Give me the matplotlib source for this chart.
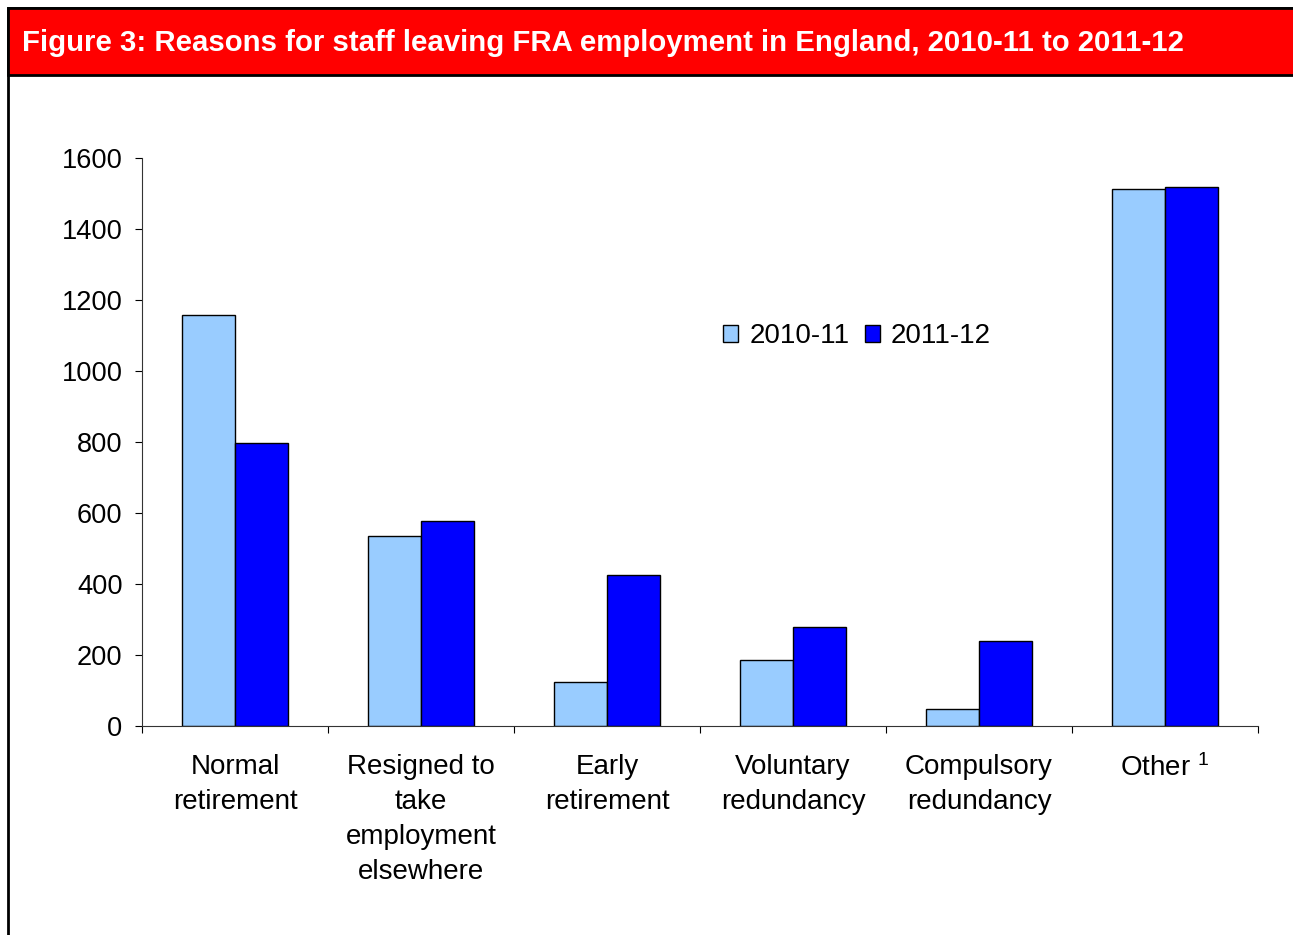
import numpy as np
import matplotlib
matplotlib.use("Agg")
import matplotlib.pyplot as plt
from matplotlib.patches import Rectangle

plt.rcParams['font.family'] = ['Liberation Sans', 'DejaVu Sans']
plt.rcParams['mathtext.fontset'] = 'custom'
plt.rcParams['mathtext.rm'] = 'Liberation Sans'
plt.rcParams['mathtext.default'] = 'regular'

categories = ["Normal\nretirement", "Resigned to\ntake\nemployment\nelsewhere",
              "Early\nretirement", "Voluntary\nredundancy", "Compulsory\nredundancy",
              "Other $^{1}$"]
values_2010 = [1158, 535, 124, 186, 48, 1513]
values_2011 = [797, 577, 425, 279, 239, 1518]
series_names = ["2010-11", "2011-12"]

fig = plt.figure(figsize=(12.93, 9.35), dpi=100)

# frame + red title band
W, H = 1293, 935
fig.patches.append(Rectangle((8 / W, -0.1), 1.2, 1.1 - 8 / H, transform=fig.transFigure,
                             facecolor="white", edgecolor="black", linewidth=2, zorder=-10))
fig.patches.append(Rectangle((8 / W, 1 - 75 / H), 1.2, 67 / H, transform=fig.transFigure,
                             facecolor="#ff0000", edgecolor="black", linewidth=2, zorder=-9))
fig.text(22 / W, 1 - 43 / H, "Figure 3: Reasons for staff leaving FRA employment in England, 2010-11 to 2011-12",
         color="white", fontsize=21.2, fontweight="bold", va="center", ha="left")

ax = fig.add_axes([142 / W, 1 - 726 / H, (1258 - 142) / W, 568 / H])
ax.patch.set_alpha(0)

x = np.arange(len(categories))
w = 0.285
ax.bar(x - w / 2, values_2010, w, color="#99ccff", edgecolor="black", linewidth=1.0, label=series_names[0])
ax.bar(x + w / 2, values_2011, w, color="#0000ff", edgecolor="black", linewidth=1.0, label=series_names[1])

ax.set_xlim(-0.5, len(categories) - 0.5)
ax.set_ylim(0, 1600)
ax.set_yticks(range(0, 1601, 200))
ax.tick_params(axis="y", labelsize=19.6, length=5, direction="out", pad=9)

ax.set_xticks(np.arange(len(categories) + 1) - 0.5)
ax.set_xticklabels([])
ax.tick_params(axis="x", length=5, direction="out")
ax.set_xticks(x, minor=True)
ax.set_xticklabels(categories, minor=True, fontsize=20, linespacing=1.46)
ax.tick_params(axis="x", which="minor", length=0, pad=20)

for s in ["top", "right"]:
    ax.spines[s].set_visible(False)
for s in ["left", "bottom"]:
    ax.spines[s].set_color("#333333")

ax.legend(loc="center", bbox_to_anchor=(857 / W, 1 - 336 / H), bbox_transform=fig.transFigure,
          ncol=2, frameon=False, fontsize=20, handlelength=0.55, handleheight=0.55,
          handletextpad=0.4, columnspacing=0.55, borderpad=0)

fig.savefig("out.png", dpi=100)
